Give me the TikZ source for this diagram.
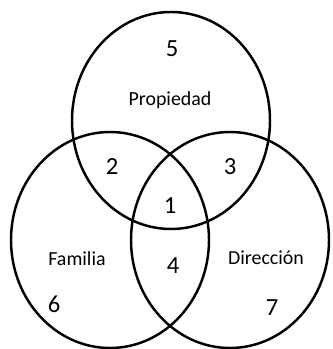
\documentclass[tikz,border=0pt]{standalone}
\usepackage{fontspec}
\setmainfont{Carlito}
\usepackage{tikz}

\begin{document}
\begin{tikzpicture}[x=0.03cm,y=-0.03cm,
    setline/.style={line width=2.1pt,draw=black},
    setname/.style={font=\fontsize{17}{20}\selectfont},
    regnum/.style={font=\fontsize{21}{24}\selectfont}]
      \useasboundingbox (0,0) rectangle (332,349);
      \draw[setline] (171,120.5) ellipse [x radius=99,y radius=108.5];
      \draw[setline] (110,240) ellipse [x radius=99,y radius=108];
      \draw[setline] (230,240) ellipse [x radius=99,y radius=108];
      \node[setname] (prop) at (170,100) {Propiedad};
      \node[setname] (fam) at (77,259) {Familia};
      \node[setname] (dir) at (266,258) {Dirección};
      \node[regnum] (r1) at (170,206) {1};
      \node[regnum] (r2) at (112,167) {2};
      \node[regnum] (r3) at (230,167) {3};
      \node[regnum] (r4) at (173,266) {4};
      \node[regnum] (r5) at (172,49) {5};
      \node[regnum] (r6) at (54,304) {6};
      \node[regnum] (r7) at (272,308) {7};
    \end{tikzpicture}
\end{document}
